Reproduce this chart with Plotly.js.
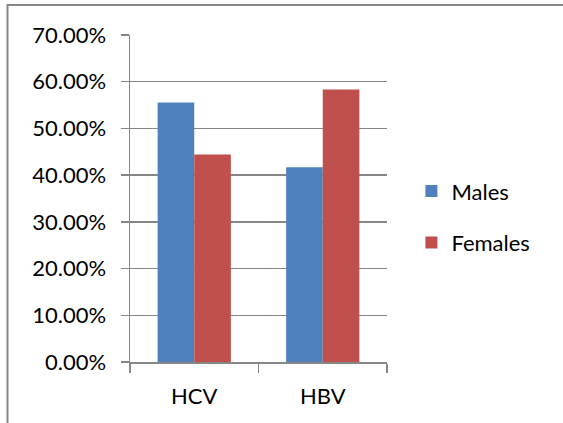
<!DOCTYPE html>
<html>
<head>
<meta charset="utf-8">
<script src="https://cdn.plot.ly/plotly-3.0.1.min.js"></script>
<style>html,body{margin:0;padding:0;background:#fff;}#chart{width:563px;height:423px;}</style>
</head>
<body>
<div id="chart"></div>
<script>
const categories = ["HCV", "HBV"];
const males = [0.5556, 0.4167];
const females = [0.4444, 0.5833];
const seriesNames = ["Males", "Females"];
const yTicks = [0, 0.1, 0.2, 0.3, 0.4, 0.5, 0.6, 0.7];

const font = {family: "Lato, 'Open Sans', sans-serif", size: 22, color: "#000"};
const gray = "#868686";

const traces = [
  {type: "bar", name: seriesNames[0], x: categories, y: males, marker: {color: "#4F81BD"}, legendgroup: "a"},
  {type: "bar", name: seriesNames[1], x: categories, y: females, marker: {color: "#C0504D"}, legendgroup: "b"}
];

const layout = {
  width: 563, height: 423,
  margin: {l: 130, r: 176, t: 35, b: 61},
  paper_bgcolor: "#fff", plot_bgcolor: "#fff",
  font: font,
  barmode: "group", bargap: 0.43, bargroupgap: 0,
  showlegend: true,
  legend: {x: 1.095, y: 0.443, xanchor: "left", yanchor: "middle", font: font, tracegroupgap: 20, bgcolor: "rgba(0,0,0,0)"},
  xaxis: {
    type: "category", showline: true, linecolor: gray, linewidth: 1.5,
    ticks: "outside", tickson: "boundaries", ticklen: 9, tickcolor: gray, tickwidth: 1.5,
    showgrid: false, tickfont: font, ticklabelstandoff: 14, fixedrange: true
  },
  yaxis: {
    range: [0, 0.7], tickvals: yTicks, tickformat: ".2%",
    showline: true, linecolor: gray, linewidth: 1.5,
    ticks: "outside", ticklen: 8, tickcolor: gray, tickwidth: 1.5,
    showgrid: true, gridcolor: gray, gridwidth: 1.5, zeroline: false,
    tickfont: font, ticklabelstandoff: 10, fixedrange: true
  },
  shapes: [
    {type: "path", xref: "paper", yref: "paper",
     path: "M -0.4767 -0.2 L -0.4767 1.0917 L 1.7 1.0917",
     line: {color: gray, width: 2}}
  ]
};

Plotly.newPlot("chart", traces, layout, {staticPlot: true, displayModeBar: false});
</script>
</body>
</html>
